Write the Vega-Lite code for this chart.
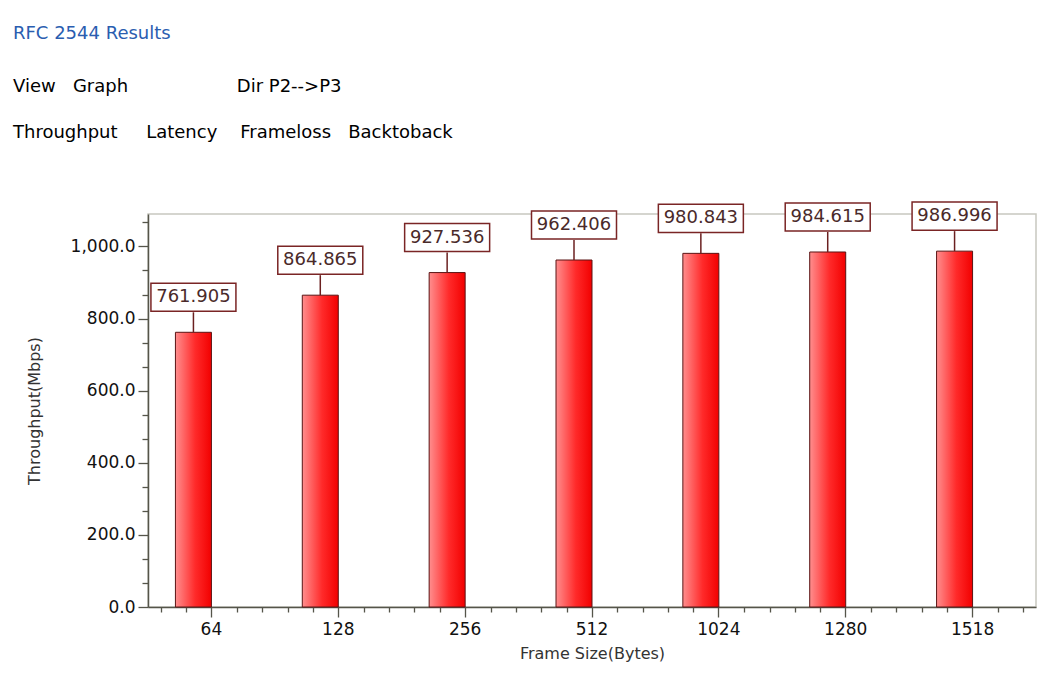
{
  "$schema": "https://vega.github.io/schema/vega-lite/v6.json",
  "autosize": {"type": "none"},
  "width": 888,
  "height": 393,
  "padding": {"left": 148, "top": 214, "right": 6, "bottom": 80},
  "background": "white",
  "config": {
    "view": {"stroke": "#c8c8c0", "strokeWidth": 1.5},
    "font": "DejaVu Sans",
    "axis": {"domainColor": "#55554a", "tickColor": "#55554a", "labelColor": "#111", "titleColor": "#333", "labelFont": "DejaVu Sans", "titleFont": "DejaVu Sans", "domainWidth": 1.5, "tickWidth": 1.3, "grid": false}
  },
  "title": {
    "text": "RFC 2544 Results",
    "subtitle": ["\u2003View\u00a0\u00a0\u00a0Graph\u00a0\u00a0\u00a0\u00a0\u00a0\u00a0\u00a0\u00a0\u00a0\u00a0\u00a0\u00a0\u00a0\u00a0\u00a0\u00a0\u00a0\u00a0\u00a0Dir\u00a0P2-->P3", "Throughput\u00a0\u00a0\u00a0\u00a0\u00a0Latency\u00a0\u00a0\u00a0\u00a0Frameloss\u00a0\u00a0\u00a0Backtoback"],
    "anchor": "start",
    "frame": "group",
    "dx": -135,
    "offset": 57,
    "font": "DejaVu Sans",
    "fontSize": 18,
    "fontWeight": "normal",
    "color": "#2a5db0",
    "subtitleFont": "DejaVu Sans",
    "subtitleFontSize": 18,
    "subtitleColor": "#000",
    "subtitleLineHeight": 46,
    "subtitlePadding": 35
  },
  "data": {
    "values": [
      {"size": "64", "throughput": 761.905},
      {"size": "128", "throughput": 864.865},
      {"size": "256", "throughput": 927.536},
      {"size": "512", "throughput": 962.406},
      {"size": "1024", "throughput": 980.843},
      {"size": "1280", "throughput": 984.615},
      {"size": "1518", "throughput": 986.996}
    ]
  },
  "resolve": {"scale": {"x": "independent"}, "axis": {"x": "independent", "y": "independent"}},
  "layer": [
    {
      "encoding": {
        "x": {
          "field": "size", "type": "ordinal", "sort": null,
          "scale": {"paddingInner": 0, "paddingOuter": 0},
          "axis": {"title": "Frame Size(Bytes)", "labelAngle": 0, "labelFontSize": 17, "titleFontSize": 16, "titleFontWeight": "normal", "tickSize": 10, "labelPadding": 4, "titlePadding": 8, "orient": "bottom"}
        },
        "y": {
          "field": "throughput", "type": "quantitative",
          "scale": {"domain": [0, 1090], "nice": false},
          "axis": {"title": "Throughput(Mbps)", "values": [0, 200, 400, 600, 800, 1000], "format": ",.1f", "labelFontSize": 17, "titleFontSize": 16, "titleFontWeight": "normal", "tickSize": 10, "labelPadding": 3, "titlePadding": 28, "orient": "left"}
        }
      },
      "layer": [
        {
          "mark": {
            "type": "bar", "width": 36, "xOffset": -18,
            "color": {"gradient": "linear", "x1": 0, "x2": 1, "y1": 0, "y2": 0, "stops": [
              {"offset": 0, "color": "#ff8e8e"},
              {"offset": 0.55, "color": "#ff2a2a"},
              {"offset": 1, "color": "#f20000"}
            ]},
            "stroke": "#5a1414", "strokeWidth": 1
          }
        },
        {
          "mark": {"type": "rule", "xOffset": -18, "y2Offset": -20, "color": "#6b2020", "strokeWidth": 1.5},
          "encoding": {"y2": {"field": "throughput"}}
        },
        {
          "mark": {"type": "point", "shape": "M-1,-0.33L1,-0.33L1,0.33L-1,0.33Z", "size": 7225, "filled": true, "fill": "white", "stroke": "#7a2525", "strokeWidth": 1.5, "opacity": 1, "xOffset": -18, "yOffset": -35}
        },
        {
          "mark": {"type": "text", "xOffset": -18, "yOffset": -35, "baseline": "middle", "align": "center", "fontSize": 18, "color": "#4a2a2a", "font": "DejaVu Sans"},
          "encoding": {"text": {"field": "throughput", "type": "quantitative", "format": ".3f"}}
        }
      ]
    },
    {
      "mark": {"type": "point", "opacity": 0},
      "encoding": {
        "x": {
          "datum": 3.5, "type": "quantitative",
          "scale": {"domain": [0, 7], "nice": false, "zero": false},
          "axis": {"orient": "bottom", "values": [0.1, 0.3, 0.7, 0.9, 1.1, 1.3, 1.7, 1.9, 2.1, 2.3, 2.7, 2.9, 3.1, 3.3, 3.7, 3.9, 4.1, 4.3, 4.7, 4.9, 5.1, 5.3, 5.7, 5.9, 6.1, 6.3, 6.7, 6.9], "labels": false, "domain": false, "tickSize": 5, "title": null}
        },
        "y": {
          "datum": 500, "type": "quantitative",
          "axis": {"orient": "left", "values": [66.67, 133.33, 266.67, 333.33, 466.67, 533.33, 666.67, 733.33, 866.67, 933.33, 1066.67], "labels": false, "domain": false, "tickSize": 6, "title": null}
        }
      }
    }
  ]
}
